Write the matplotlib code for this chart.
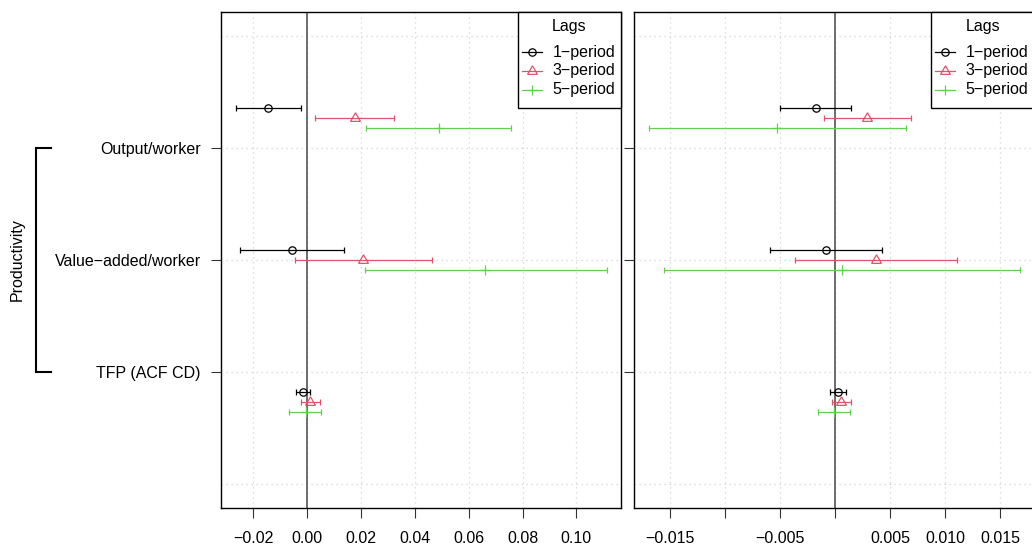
import matplotlib
matplotlib.use("Agg")
import matplotlib.pyplot as plt
from matplotlib.lines import Line2D
from matplotlib.patches import Rectangle
from matplotlib.transforms import blended_transform_factory
import numpy as np

plt.rcParams['font.family'] = ['Liberation Sans', 'DejaVu Sans']
FS = 11.5

# ---------------- data ----------------
variables = ["Output/worker", "Value\u2212added/worker", "TFP (ACF CD)"]
lags = ["1\u2212period", "3\u2212period", "5\u2212period"]

# left panel: rows = variables, cols = lags
left_est = [[-0.0144, 0.0176, 0.0488],
            [-0.0056, 0.0208, 0.0661],
            [-0.0016, 0.0012, -0.0006]]
left_lo = [[-0.0266, 0.0028, 0.0219],
           [-0.0248, -0.0046, 0.0213],
           [-0.0040, -0.0022, -0.0066]]
left_hi = [[-0.0022, 0.0324, 0.0756],
           [0.0136, 0.0463, 0.1112],
           [0.0009, 0.0049, 0.0051]]

# right panel
right_est = [[-0.00176, 0.00291, -0.00524],
             [-0.00082, 0.00369, 0.00061],
             [0.00031, 0.00058, -0.00009]]
right_lo = [[-0.00497, -0.00103, -0.01689],
            [-0.00587, -0.00366, -0.01550],
            [-0.00045, -0.00027, -0.00158]]
right_hi = [[0.00148, 0.00693, 0.00645],
            [0.00424, 0.01105, 0.01677],
            [0.00103, 0.00141, 0.00132]]

left_ticks = [-0.02, 0.00, 0.02, 0.04, 0.06, 0.08, 0.10]
left_ticklabels = ["\u22120.02", "0.00", "0.02", "0.04", "0.06", "0.08", "0.10"]
right_ticks = [-0.015, -0.010, -0.005, 0.000, 0.005, 0.010, 0.015]
right_ticklabels = ["\u22120.015", "", "\u22120.005", "", "0.005", "0.010", "0.015"]

# ---------------- styles ----------------
colors = ["#000000", "#DF536B", "#61D04F"]
markers = ["o", (3, 0, 0), "+"]
msizes = [5.3, 8.2, 7.2]
base_y = [3, 2, 1]
offsets = [[0.357, 0.268, 0.179],
           [0.089, 0.0, -0.089],
           [-0.179, -0.268, -0.357]]

W, H = 1032, 548
fig = plt.figure(figsize=(W / 100, H / 100), dpi=100)

AXW_PX, AXH_PX = 400.0, 496.3
ax_w = AXW_PX / W
ax_h = AXH_PX / H
ax_b = (H - 508.3) / H
ax1 = fig.add_axes([220.5 / W, ax_b, ax_w, ax_h])
ax2 = fig.add_axes([633.7 / W, ax_b, ax_w, ax_h])


def legend_box(ax):
    # legend drawn in axes-fraction coordinates, anchored at upper-right corner
    def fx(px):
        return 1 - (102.3 - px) / AXW_PX

    def fy(py):
        return 1 - py / AXH_PX

    ax.add_patch(Rectangle((fx(0), fy(96.0)), 102.3 / AXW_PX, 96.0 / AXH_PX,
                           transform=ax.transAxes, facecolor="white",
                           edgecolor="black", lw=1.0, zorder=5, clip_on=False))
    ax.text(fx(51.2), fy(15.0), "Lags", transform=ax.transAxes, ha="center",
            va="center", fontsize=FS, zorder=6, clip_on=False)
    rows = [40.0, 59.0, 77.7]
    for j in range(3):
        ax.add_line(Line2D([fx(3.3), fx(24.0)], [fy(rows[j])] * 2,
                           transform=ax.transAxes, color=colors[j], lw=0.9,
                           zorder=6, clip_on=False))
        ax.add_line(Line2D([fx(13.7)], [fy(rows[j])], transform=ax.transAxes,
                           linestyle="none", marker=markers[j],
                           markersize=msizes[j], markerfacecolor="none",
                           markeredgecolor=colors[j], markeredgewidth=0.9,
                           zorder=7, clip_on=False))
        ax.text(fx(34.3), fy(rows[j]), lags[j], transform=ax.transAxes,
                ha="left", va="center", fontsize=FS, zorder=6, clip_on=False)


def draw_panel(ax, est, lo, hi, xticks, xticklabels, xlim, ylabels):
    ax.set_xlim(*xlim)
    ax.set_ylim(-0.214, 4.214)
    for xt in xticks:
        ax.axvline(xt, color="#D3D3D3", lw=0.9, ls=(0, (1, 3)), zorder=0)
    for yt in [0, 1, 2, 3, 4]:
        ax.axhline(yt, color="#D3D3D3", lw=0.9, ls=(0, (1, 3)), zorder=0)
    ax.axvline(0, color="#555555", lw=1.2, zorder=1)
    for i in range(3):
        for j in range(3):
            y = base_y[i] + offsets[i][j]
            e = est[i][j]
            ax.errorbar([e], [y], xerr=[[e - lo[i][j]], [hi[i][j] - e]],
                        fmt="none", ecolor=colors[j], elinewidth=0.9,
                        capsize=2.0, capthick=0.9, zorder=2)
            ax.plot([e], [y], linestyle="none", marker=markers[j],
                    markersize=msizes[j], markerfacecolor="none",
                    markeredgecolor=colors[j], markeredgewidth=0.9, zorder=3)
    ax.set_xticks(xticks)
    ax.set_xticklabels(xticklabels, fontsize=FS)
    ax.set_yticks(base_y)
    ax.set_yticklabels(ylabels, fontsize=FS)
    ax.tick_params(axis="both", direction="out", length=7.2, width=0.8,
                   color="#333333")
    ax.tick_params(axis="x", pad=9.0)
    ax.tick_params(axis="y", pad=7.0)
    for s in ax.spines.values():
        s.set_linewidth(1.0)
        s.set_color("black")
    legend_box(ax)


draw_panel(ax1, left_est, left_lo, left_hi, left_ticks, left_ticklabels,
           (-0.0322, 0.1164), variables)
draw_panel(ax2, right_est, right_lo, right_hi, right_ticks, right_ticklabels,
           (-0.01828, 0.01804), ["", "", ""])

# bracket for "Productivity"
tr = blended_transform_factory(fig.transFigure, ax1.transData)
xb0, xb1 = 35.7 / W, 51.0 / W
fig.add_artist(Line2D([xb1, xb0, xb0, xb1], [3, 3, 1, 1], transform=tr,
                      color="black", lw=1.5, solid_joinstyle="miter"))
fig.text(17.0 / W, (H - 260) / H, "Productivity", rotation=90,
         ha="center", va="center", fontsize=FS)

fig.savefig("out.png", dpi=100)
